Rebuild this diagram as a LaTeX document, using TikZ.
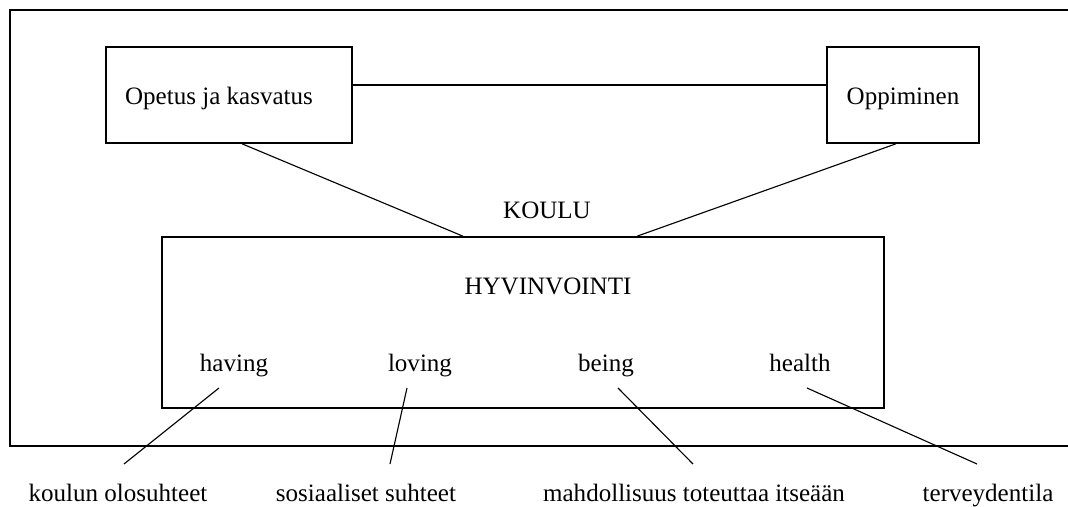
\documentclass[tikz,border=0pt]{standalone}
\usepackage{fontspec}
\setmainfont{Liberation Serif}
\usepackage{tikz}

\begin{document}
\begin{tikzpicture}[x=0.025cm,y=-0.025cm,
  box/.style={draw,line width=1.1pt,inner sep=0pt},
  txt/.style={inner sep=0pt,anchor=base,font=\fontsize{17.8}{21}\selectfont},
  link/.style={line width=0.8pt}]
  \useasboundingbox (0,0) rectangle (1068,507);

  \draw[line width=1.1pt] (1068,10) -- (10,10) -- (10,446) -- (1068,446);

  \node[box,minimum width=6.15cm,minimum height=2.4cm] (opetusbox) at (229,95) {};
  \node[box,minimum width=3.8cm,minimum height=2.4cm] (oppiminenbox) at (903,95) {};
  \node[box,minimum width=18.05cm,minimum height=4.275cm] (hyvbox) at (523,322.5) {};

  \node[txt] (opetus) at (219,104) {Opetus ja kasvatus};
  \node[txt] (oppiminen) at (903,104) {Oppiminen};
  \node[txt] (koulu) at (547,218) {KOULU};
  \node[txt] (hyv) at (548,294) {HYVINVOINTI};

  \draw[link] ([yshift=0.25cm]opetusbox.east) -- ([yshift=0.25cm]oppiminenbox.west);
  \draw[link] ([xshift=0.325cm]opetusbox.south) -- ([xshift=-1.5cm]hyvbox.north);
  \draw[link] ([xshift=-0.175cm]oppiminenbox.south) -- ([xshift=2.85cm]hyvbox.north);

  \node[txt] (having) at (234,371) {having};
  \node[txt] (loving) at (420,371) {loving};
  \node[txt] (being) at (606,371) {being};
  \node[txt] (health) at (800,371) {health};

  \node[txt] (olot) at (118,501) {koulun olosuhteet};
  \node[txt] (suhteet) at (366,501) {sosiaaliset suhteet};
  \node[txt] (itse) at (694,501) {mahdollisuus toteuttaa itseään};
  \node[txt] (terveys) at (988,501) {terveydentila};

  % pointers
  \coordinate (p1) at (219,388); \coordinate (q1) at (124,464);
  \coordinate (p2) at (407,388); \coordinate (q2) at (390,464);
  \coordinate (p3) at (618,388); \coordinate (q3) at (693,464);
  \coordinate (p4) at (807,388); \coordinate (q4) at (977,464);
  \foreach \i in {1,...,4}
    \draw[link] (p\i) -- (q\i);
\end{tikzpicture}
\end{document}
